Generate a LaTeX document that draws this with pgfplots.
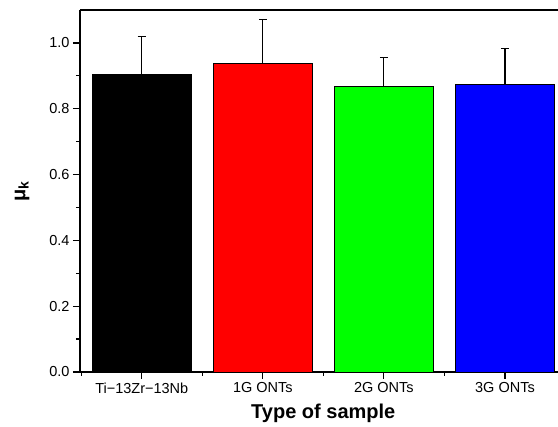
\documentclass[border=0pt]{standalone}
\usepackage{fontspec}
\setmainfont{Liberation Sans}
\usepackage{pgfplots}
\pgfplotsset{compat=1.18}
\pgfplotsset{myerr/.style={error bars/.cd, y dir=plus, y explicit,
  error bar style={line width=1.2pt, black},
  error mark options={rotate=90, line width=1.2pt, mark size=4pt, black}}}
\begin{document}
\begin{tikzpicture}
\begin{axis}[
  at={(0pt,0pt)}, anchor=south west,
  scale only axis, width=478pt, height=362pt,
  xmin=0.49, xmax=4.438,
  ymin=0, ymax=1.1,
  axis lines*=left,
  axis line style={-, line width=1.2pt},
  clip=false,
  xtick={1,2,3,4},
  xticklabels={Ti−13Zr−13Nb, 1G ONTs, 2G ONTs, 3G ONTs},
  minor xtick={0.5,1.5,2.5,3.5},
  ytick={0,0.2,0.4,0.6,0.8,1.0},
  minor ytick={0.1,0.3,0.5,0.7,0.9},
  tick align=outside,
  major tick length=7pt, minor tick length=4pt,
  every tick/.style={black, line width=1.2pt},
  yticklabel style={/pgf/number format/.cd, fixed, fixed zerofill, precision=1},
  /pgf/number format/assume math mode=true,
  tick label style={font=\fontsize{14.5}{16}\selectfont},
  xlabel={\textbf{Type of sample}},
  xlabel style={font=\fontsize{20}{22}\selectfont, at={(axis description cs:0.509,-0.114)}, anchor=center},
  ylabel={\textbf{μ\textsubscript{k}}},
  ylabel style={font=\fontsize{20}{22}\selectfont, at={(axis description cs:-0.121,0.5)}, anchor=center},
  ybar, bar width=0.815,
]
\addplot[bar shift=0pt, fill=black, draw=black, line width=0.8pt, myerr]
  coordinates {(1,0.904) +- (0,0.116)};
\addplot[bar shift=0pt, fill=red, draw=black, line width=0.8pt, myerr]
  coordinates {(2,0.939) +- (0,0.132)};
\addplot[bar shift=0pt, fill=green, draw=black, line width=0.8pt, myerr]
  coordinates {(3,0.869) +- (0,0.087)};
\addplot[bar shift=0pt, fill=blue, draw=black, line width=0.8pt, myerr]
  coordinates {(4,0.874) +- (0,0.110)};
\draw[line width=1.2pt] (rel axis cs:0,1) -- (rel axis cs:1,1);
\end{axis}
\pgfresetboundingbox
\path[use as bounding box] (-80pt,-55pt) rectangle (478pt,372pt);
\end{tikzpicture}
\end{document}
